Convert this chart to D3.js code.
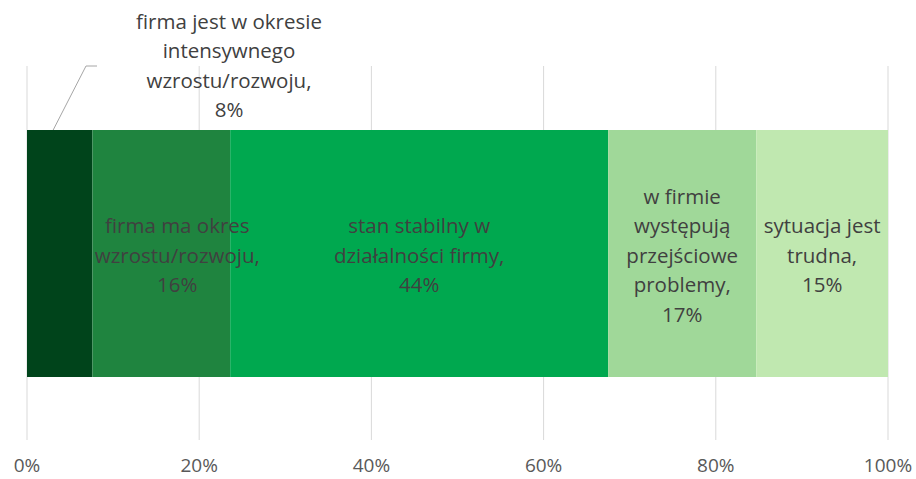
<!DOCTYPE html>
<html lang="pl">
<head>
<meta charset="UTF-8">
<title>Sytuacja firmy</title>
<script src="https://cdnjs.cloudflare.com/ajax/libs/d3/7.8.5/d3.min.js"></script>
<style>
    body { margin: 0; background: #fff; }
    svg text { font-family: "Open Sans", "Noto Sans", sans-serif; }
    .seg-label { font-size: 20.5px; fill: #404040; text-anchor: middle; }
    .tick-label { font-size: 19px; fill: #595959; text-anchor: middle; }
</style>
</head>
<body>
<svg id="CHART"></svg>
<script>
    // dane
    var categories = [
        "firma jest w okresie|intensywnego|wzrostu/rozwoju,",
        "firma ma okres|wzrostu/rozwoju,",
        "stan stabilny w|działalności firmy,",
        "w firmie|występują|przejściowe|problemy,",
        "sytuacja jest|trudna,"
    ];
    var values = [7.6, 16.0, 43.9, 17.2, 15.3];
    var colors = ["#00441b", "#1f843f", "#00a84f", "#a0d899", "#c0e8b0"];
    var tickValues = [0, 20, 40, 60, 80, 100];

    var width = 916, height = 479;
    var svg = d3.select("#CHART").attr("width", width).attr("height", height);

    var x = d3.scaleLinear().domain([0, 100]).range([27, 888]);
    var barTop = 130, barBottom = 377;

    // linie siatki
    svg.append("g").selectAll("line")
        .data(tickValues).join("line")
        .attr("x1", function(d){ return x(d); })
        .attr("x2", function(d){ return x(d); })
        .attr("y1", 66).attr("y2", 440)
        .attr("stroke", "#d9d9d9").attr("stroke-width", 1);

    // etykiety osi
    svg.append("g").selectAll("text")
        .data(tickValues).join("text")
        .attr("class", "tick-label")
        .attr("x", function(d){ return x(d); })
        .attr("y", 472)
        .text(function(d){ return d + "%"; });

    // segmenty
    var segs = [];
    var acc = 0;
    values.forEach(function(v, i){
        segs.push({ name: categories[i], value: v, x0: acc, x1: acc + v, color: colors[i] });
        acc += v;
    });

    svg.append("g").selectAll("rect")
        .data(segs).join("rect")
        .attr("x", function(d){ return x(d.x0); })
        .attr("width", function(d){ return x(d.x1) - x(d.x0); })
        .attr("y", barTop).attr("height", barBottom - barTop)
        .attr("fill", function(d){ return d.color; });

    var lineH = 29.5;
    segs.forEach(function(d, i){
        var lines = d.name.split("|").concat([Math.round(d.value) + "%"]);
        var cx, cy;
        if (i === 0) {
            // etykieta nad paskiem z linią odniesienia
            cx = 229; cy = 66;
            svg.append("path")
                .attr("d", "M" + (x(d.x0 + d.value * 0.4)) + "," + barTop + "L86,66L97,66")
                .attr("fill", "none").attr("stroke", "#a6a6a6").attr("stroke-width", 1);
        } else {
            cx = (x(d.x0) + x(d.x1)) / 2 + (i === 1 ? 16 : 0);
            cy = (barTop + barBottom) / 2 + 2;
        }
        var t = svg.append("text").attr("class", "seg-label");
        var y0 = cy - (lines.length - 1) * lineH / 2;
        lines.forEach(function(l, j){
            t.append("tspan").attr("x", cx).attr("y", y0 + j * lineH).attr("dy", "0.35em").text(l);
        });
    });
</script>
</body>
</html>
